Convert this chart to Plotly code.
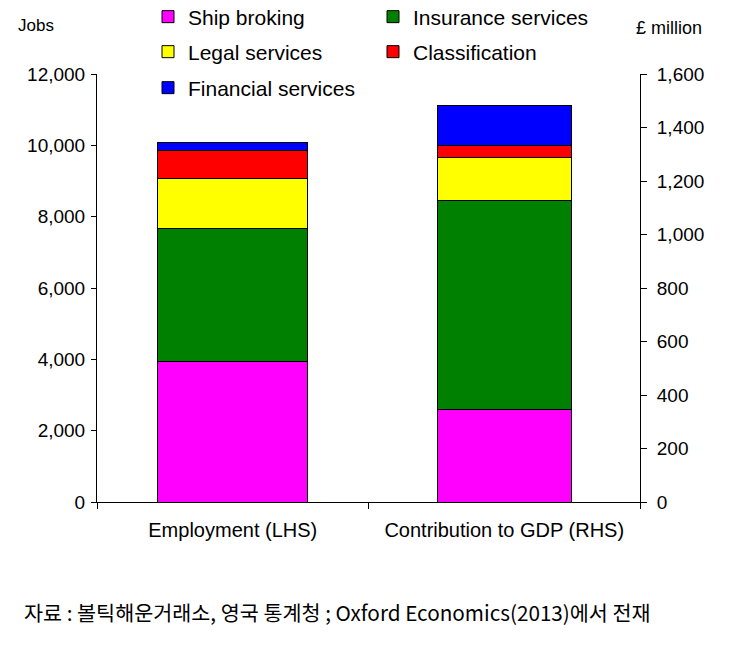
import plotly.graph_objects as go

categories = ["Employment (LHS)", "Contribution to GDP (RHS)"]
series_names = ["Ship broking", "Insurance services", "Legal services",
                "Classification", "Financial services"]
employment_jobs = [3930, 3750, 1400, 785, 225]
gdp_million = [344, 784, 161, 43, 149]
left_ticks = [0, 2000, 4000, 6000, 8000, 10000, 12000]
right_ticks = [0, 200, 400, 600, 800, 1000, 1200, 1400, 1600]

colors = ["#FF00FF", "#008000", "#FFFF00", "#FF0000", "#0000FF"]
legend_ids = ["legend", "legend", "legend2", "legend2", "legend3"]
FONT = "Arial, 'Liberation Sans', sans-serif"

fig = go.Figure()
for i, name in enumerate(series_names):
    fig.add_trace(go.Bar(
        x=[categories[0]], y=[employment_jobs[i]], name=name,
        marker=dict(color=colors[i], line=dict(color="black", width=1)),
        width=0.552, legend=legend_ids[i], legendgroup=name,
        yaxis="y",
    ))
for i, name in enumerate(series_names):
    fig.add_trace(go.Bar(
        x=[categories[1]], y=[gdp_million[i]], name=name,
        marker=dict(color=colors[i], line=dict(color="black", width=1)),
        width=0.494, legendgroup=name, showlegend=False,
        yaxis="y2",
    ))

legend_common = dict(orientation="h", xanchor="left", yanchor="middle",
                     font=dict(family=FONT, size=21, color="black"),
                     entrywidth=180, entrywidthmode="pixels",
                     bgcolor="rgba(0,0,0,0)", itemclick=False)

W, H = 734, 649
L, R, T, B = 97, 94, 74, 147
pw, ph = W - L - R, H - T - B


def px_x(px):
    return (px - L) / pw


def px_y(py):
    return (H - B - py) / ph


fig.update_layout(
    width=W, height=H,
    margin=dict(l=L, r=R, t=T, b=B, autoexpand=False),
    paper_bgcolor="white", plot_bgcolor="white",
    barmode="stack",
    font=dict(family=FONT, size=19, color="black"),
    legend=dict(x=px_x(148), y=px_y(17), **legend_common),
    legend2=dict(x=px_x(148), y=px_y(52), **legend_common),
    legend3=dict(x=px_x(148), y=px_y(88), **legend_common),
    xaxis=dict(
        type="category", categoryorder="array", categoryarray=categories,
        showline=True, linecolor="black", linewidth=1,
        ticks="outside", ticklen=6, tickcolor="black", tickson="boundaries",
        showgrid=False, tickfont=dict(size=20), ticklabelstandoff=10,
    ),
    yaxis=dict(
        range=[0, 12000], tickvals=left_ticks, tickformat=",d",
        showline=True, linecolor="black", linewidth=1,
        ticks="outside", ticklen=5, tickcolor="black",
        showgrid=False, zeroline=False, tickfont=dict(size=19),
        ticklabelstandoff=2,
    ),
    yaxis2=dict(
        range=[0, 1600], tickvals=right_ticks, tickformat=",d",
        overlaying="y", side="right",
        showline=True, linecolor="black", linewidth=1,
        ticks="outside", ticklen=6, tickcolor="black",
        showgrid=False, zeroline=False, tickfont=dict(size=19),
        ticklabelstandoff=6,
    ),
)

fig.add_annotation(text="Jobs", x=px_x(36), y=px_y(26), xref="paper", yref="paper",
                   xanchor="center", yanchor="middle", showarrow=False,
                   font=dict(size=17))
fig.add_annotation(text="£ million", x=px_x(669), y=px_y(28), xref="paper", yref="paper",
                   xanchor="center", yanchor="middle", showarrow=False,
                   font=dict(size=18))
fig.add_annotation(text="자료 : 볼틱해운거래소, 영국 통계청 ; Oxford Economics(2013)에서 전재",
                   x=px_x(22), y=px_y(612), xref="paper", yref="paper",
                   xanchor="left", yanchor="middle", showarrow=False,
                   font=dict(family="'Noto Sans CJK KR', sans-serif", size=20.7))

fig.write_html("out.html", config={"displayModeBar": False},
               post_script="document.body.style.margin='0';")
